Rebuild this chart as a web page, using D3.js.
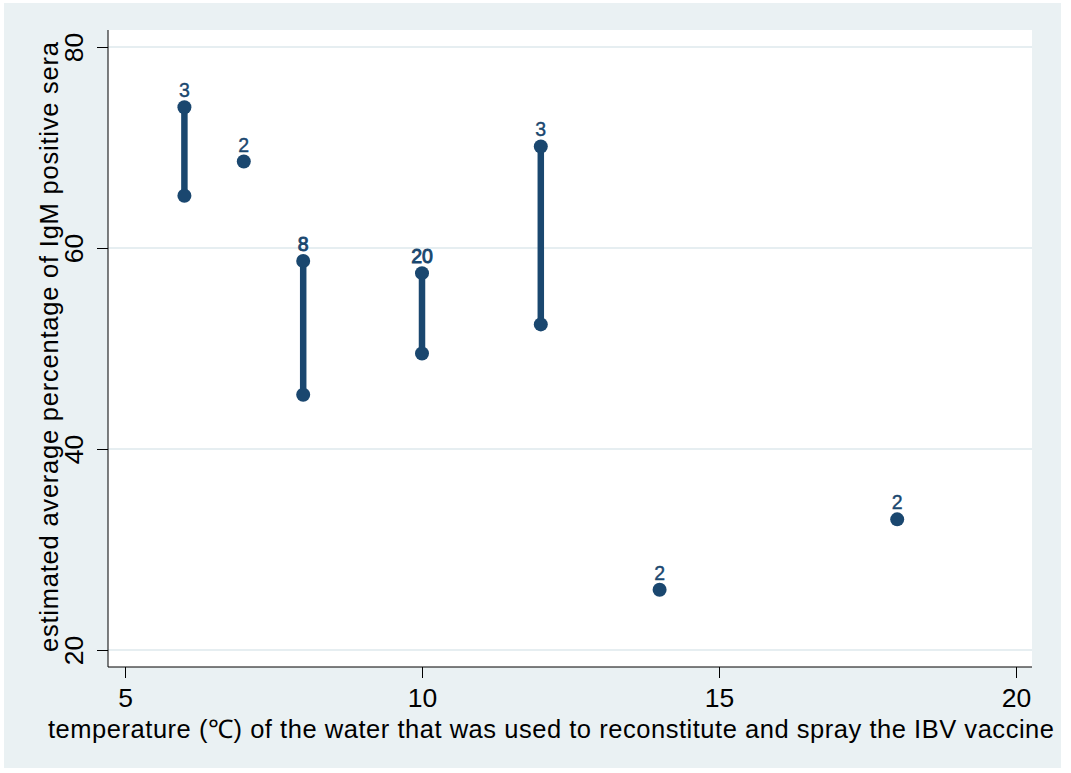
<!DOCTYPE html>
<html><head><meta charset="utf-8">
<script src="https://cdn.jsdelivr.net/npm/d3@7"></script>
<style>body{margin:0;background:#fff;}svg{display:block;font-family:"Liberation Sans",Arial,sans-serif;}</style>
</head><body><svg id="c" width="1071" height="773"></svg>
<script>
// data
const temps  = [6, 7, 8, 10, 12, 14, 18];
const highs  = [74.0, 68.6, 58.7, 57.5, 70.1, 26.0, 33.0];
const lows   = [65.2, 68.6, 45.4, 49.5, 52.4, 26.0, 33.0];
const counts = ["3", "2", "8", "20", "3", "2", "2"];
const xTicks = [5, 10, 15, 20];
const yTicks = [20, 40, 60, 80];
const xTitle = "temperature (\u2103) of the water that was used to reconstitute and spray the IBV vaccine";
const yTitle = "estimated average percentage of IgM positive sera";

const navy = "#1a476f", bg = "#eaf1f3", grid = "#e6eef1";
const svg = d3.select("#c");
svg.append("rect").attr("x",4).attr("y",3).attr("width",1057).attr("height",765).attr("fill",bg);
const L=108,R=1032,T=30,B=667;
svg.append("rect").attr("x",L).attr("y",T).attr("width",R-L).attr("height",B-T).attr("fill","#fff");

const x = d3.scaleLinear().domain([5,20]).range([125,1016]);
const y = d3.scaleLinear().domain([20,80]).range([650,47]);

// grid
svg.append("g").selectAll("line").data(yTicks).join("line")
  .attr("x1",L).attr("x2",R).attr("y1",d=>y(d)).attr("y2",d=>y(d))
  .attr("stroke",grid).attr("stroke-width",2);

// axes
const ya = svg.append("g").attr("transform",`translate(${L},0)`)
  .call(d3.axisLeft(y).tickValues(yTicks).tickSize(11).tickSizeOuter(0).tickFormat(d3.format("d")));
ya.select(".domain").attr("d",`M0,${T}V${B}`).attr("stroke","#000");
ya.selectAll(".tick line").attr("stroke","#000");
ya.selectAll(".tick text").attr("font-size",26.5).attr("fill","#000")
  .attr("x",0).attr("dy",0).attr("text-anchor","middle")
  .attr("transform","translate(-25,0) rotate(-90)");

const xa = svg.append("g").attr("transform",`translate(0,${B})`)
  .call(d3.axisBottom(x).tickValues(xTicks).tickSize(11).tickSizeOuter(0).tickFormat(d3.format("d")));
xa.select(".domain").attr("d",`M${L},0H${R}`).attr("stroke","#000");
xa.selectAll(".tick line").attr("stroke","#000");
xa.selectAll(".tick text").attr("font-size",26.5).attr("fill","#000").attr("y",40).attr("dy",0);

// titles
svg.append("text").attr("x",48).attr("y",738).attr("font-size",25.5).attr("fill","#000")
  .attr("textLength",1006).attr("lengthAdjust","spacing").text(xTitle);
svg.append("text").attr("transform","translate(58,652) rotate(-90)")
  .attr("font-size",25.5).attr("fill","#000")
  .attr("textLength",610).attr("lengthAdjust","spacing").text(yTitle);

// marks
const data = temps.map((t,i)=>({t,hi:highs[i],lo:lows[i],n:counts[i]}));
const g = svg.append("g");
g.selectAll("line.r").data(data.filter(d=>d.hi!==d.lo)).join("line")
  .attr("x1",d=>x(d.t)).attr("x2",d=>x(d.t)).attr("y1",d=>y(d.hi)).attr("y2",d=>y(d.lo))
  .attr("stroke",navy).attr("stroke-width",6.5);
const pts = data.flatMap(d=> d.hi===d.lo ? [{t:d.t,v:d.hi}] : [{t:d.t,v:d.hi},{t:d.t,v:d.lo}]);
g.selectAll("circle").data(pts).join("circle")
  .attr("cx",d=>x(d.t)).attr("cy",d=>y(d.v)).attr("r",7).attr("fill",navy);
g.selectAll("text").data(data).join("text")
  .attr("x",d=>x(d.t)).attr("y",d=>y(d.hi)-10).attr("text-anchor","middle")
  .attr("font-size",19.5).attr("fill",navy).attr("stroke",navy).attr("stroke-width",d=>d.n==="8"||d.n==="20"?0.9:0.4)
  .text(d=>d.n);
</script></body></html>
